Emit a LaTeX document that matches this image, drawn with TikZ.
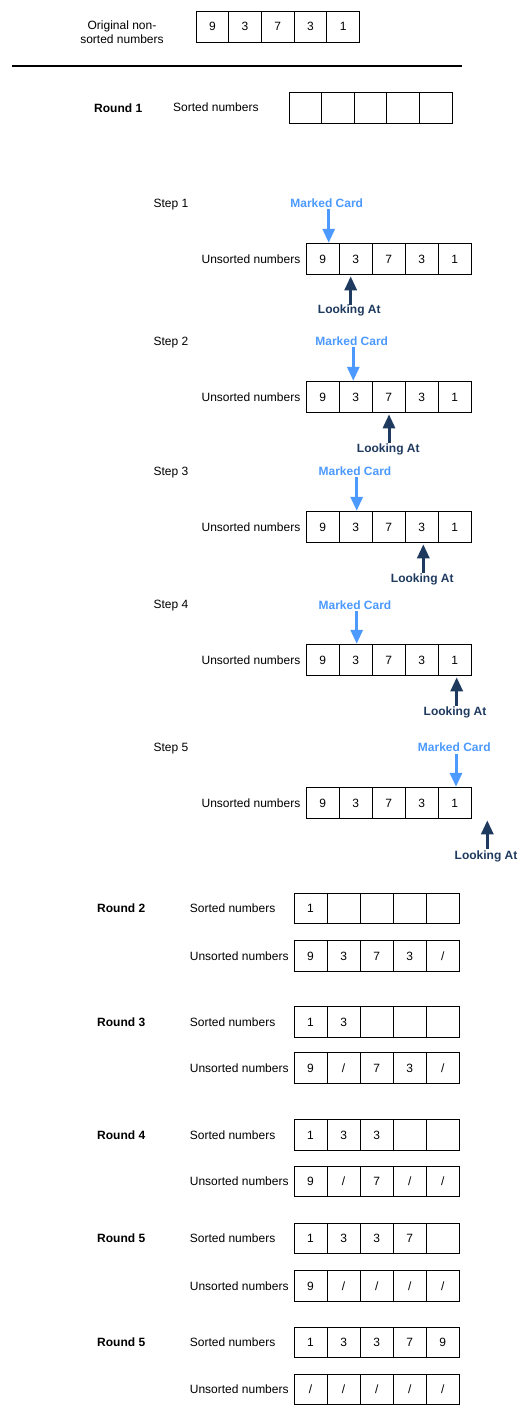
\documentclass[tikz,border=0pt]{standalone}
\usepackage{fontspec}
\setmainfont{Liberation Sans}
\usetikzlibrary{arrows.meta}
\definecolor{markblue}{HTML}{4C9AFF}
\definecolor{lookblue}{HTML}{1F3A5F}
\tikzset{
  lbl/.style={inner sep=0pt, text height=8.6pt, text depth=0pt, font=\fontsize{12}{14}\selectfont},
  boldlbl/.style={lbl, font=\fontsize{12}{14}\selectfont\bfseries},
  cell/.style={draw, line width=1pt, inner sep=0pt, text height=8.6pt, text depth=0pt, font=\fontsize{12}{14}\selectfont},
  markarrow/.style={draw=markblue, line width=3pt, -{Triangle[width=12pt,length=14pt]}},
  lookarrow/.style={draw=lookblue, line width=3pt, -{Triangle[width=12pt,length=14pt]}},
  marktxt/.style={boldlbl, text=markblue},
  looktxt/.style={boldlbl, text=lookblue},
}
% name, left x, top y, cell width, cell height, values
\newcommand\cellrow[6]{%
  \foreach \v [count=\i] in {#6} {
    \node[cell, minimum width=#4, minimum height=#5] (#1-\i) at ({#2+(\i-0.5)*#4}, {#3+#5/2}) {\v};
  }}
\begin{document}
\begin{tikzpicture}[x=1pt, y=-1pt]
\useasboundingbox[fill=white] (0,0) rectangle (527,1417);

% original numbers
\node[inner sep=0pt, align=center, font=\fontsize{12}{14.5}\selectfont] (orig) at (122,32) {Original non-\\sorted numbers};
\cellrow{o}{196}{11}{32.7}{31}{9,3,7,3,1}

% separator line
\coordinate (sepL) at (12,66);
\coordinate (sepR) at (462,66);
\draw[line width=2.6pt] (sepL) -- (sepR);

% Round 1
\node[boldlbl, anchor=west] (r1) at (94,108) {Round 1};
\node[lbl, anchor=west] (r1s) at (173,107) {Sorted numbers};
\cellrow{r1c}{289}{92}{32.6}{31}{{},{},{},{},{}}

% Steps
\foreach \n/\sy/\by/\mx/\mtx/\mty/\lx/\ltx/\lty in {
  1/203/243.3/328.7/326.7/202.7/350.7/349.3/309.3,
  2/341/381.3/353.3/351.7/340.7/389/388.3/448.3,
  3/471/511.3/356.7/355/470.7/423.3/422.3/577.7,
  4/604.5/644.3/356.7/355/604.7/456.7/455/710.7,
  5/747/787.3/456/454.3/747.3/487.3/486/855} {
  \node[lbl] (st\n) at (171,\sy) {Step \n};
  \node[lbl] (stu\n) at (251,\by+15.5) {Unsorted numbers};
  \cellrow{s\n}{306.3}{\by}{33}{31}{9,3,7,3,1}
  \node[marktxt] (mk\n) at (\mtx,\mty) {Marked Card};
  \coordinate (mkA\n) at (\mx,\mty+6.5);
  \coordinate (mkB\n) at (\mx,\by-0.5);
  \draw[markarrow] (mkA\n) -- (mkB\n);
  \node[looktxt] (lk\n) at (\ltx,\lty) {Looking At};
  \coordinate (lkA\n) at (\lx,\by+31+30.5);
  \coordinate (lkB\n) at (\lx,\by+31+2);
  \draw[lookarrow] (lkA\n) -- (lkB\n);
}

% Rounds 2-5
\node[boldlbl, anchor=west] (r2) at (97,908.3) {Round 2};
\node[lbl, anchor=west] (r2s) at (189.7,908.3) {Sorted numbers};
\cellrow{r2a}{294}{893.3}{33.07}{30.5}{1,{},{},{},{}}
\node[lbl, anchor=west] (r2u) at (189.7,955.9) {Unsorted numbers};
\cellrow{r2b}{294}{940.7}{33.07}{30.5}{9,3,7,3,/}

\node[boldlbl, anchor=west] (r3) at (97,1021.9) {Round 3};
\node[lbl, anchor=west] (r3s) at (189.7,1021.9) {Sorted numbers};
\cellrow{r3a}{294}{1006.7}{33.07}{30.5}{1,3,{},{},{}}
\node[lbl, anchor=west] (r3u) at (189.7,1068.2) {Unsorted numbers};
\cellrow{r3b}{294}{1052.9}{33.07}{30.5}{9,/,7,3,/}

\node[boldlbl, anchor=west] (r4) at (97,1134.7) {Round 4};
\node[lbl, anchor=west] (r4s) at (189.7,1134.7) {Sorted numbers};
\cellrow{r4a}{294}{1119.5}{33.07}{30.5}{1,3,3,{},{}}
\node[lbl, anchor=west] (r4u) at (189.7,1181.3) {Unsorted numbers};
\cellrow{r4b}{294}{1166}{33.07}{30.5}{9,/,7,/,/}

\node[boldlbl, anchor=west] (r5) at (97,1238.6) {Round 5};
\node[lbl, anchor=west] (r5s) at (189.7,1238.6) {Sorted numbers};
\cellrow{r5a}{294}{1223.3}{33.07}{30.5}{1,3,3,7,{}}
\node[lbl, anchor=west] (r5u) at (189.7,1286) {Unsorted numbers};
\cellrow{r5b}{294}{1270.7}{33.07}{30.5}{9,/,/,/,/}

\node[boldlbl, anchor=west] (r6) at (97,1342.6) {Round 5};
\node[lbl, anchor=west] (r6s) at (189.7,1342.6) {Sorted numbers};
\cellrow{r6a}{294}{1327.3}{33.07}{30.5}{1,3,3,7,9}
\node[lbl, anchor=west] (r6u) at (189.7,1389.3) {Unsorted numbers};
\cellrow{r6b}{294}{1374}{33.07}{30.5}{/,/,/,/,/}
\end{tikzpicture}
\end{document}
